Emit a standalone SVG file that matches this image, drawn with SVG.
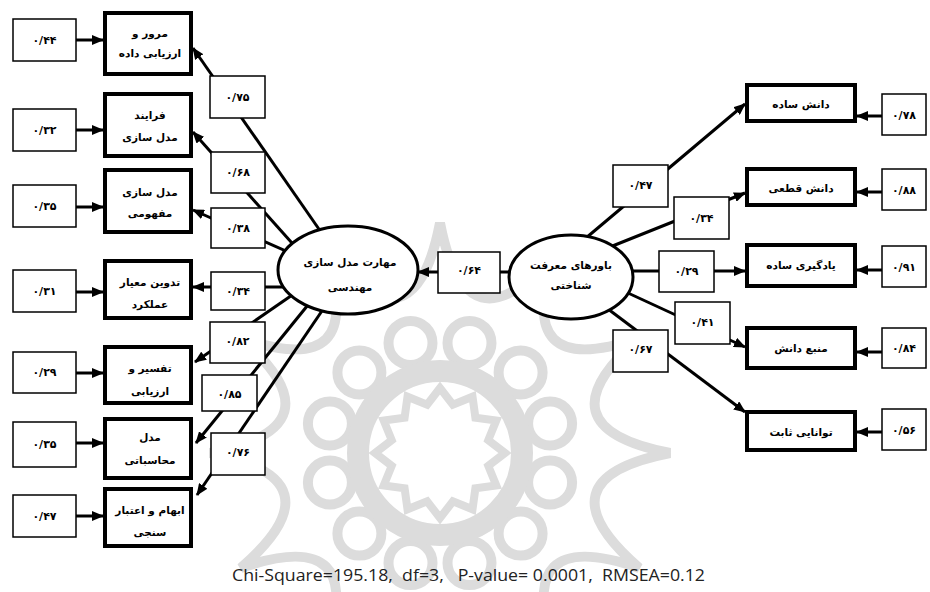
<svg xmlns="http://www.w3.org/2000/svg" width="930" height="592" viewBox="0 0 930 592">
<style>
  .wm { fill: none; stroke: #dcdcdc; stroke-width: 10; }
  .ind { fill: #fff; stroke: #000; stroke-width: 4; }
  .thin { fill: #fff; stroke: #000; stroke-width: 1.5; }
  .lat { fill: #fff; stroke: #000; stroke-width: 3; }
  .ln { stroke: #000; stroke-width: 3; fill: none; marker-end: url(#ah); }
  .fa { font-family: "DejaVu Sans", "Noto Sans", sans-serif; font-weight: bold; font-size: 10.5px; fill: #000; text-anchor: middle; dominant-baseline: central; }
  .num { font-family: "DejaVu Sans", "Noto Sans", sans-serif; font-weight: bold; font-size: 11px; fill: #000; text-anchor: middle; dominant-baseline: central; }
  .stat { font-family: "Open Sans", "Liberation Sans", sans-serif; font-size: 16.5px; fill: #222; }
</style>
<defs>
  <marker id="ah" viewBox="0 0 12 10" refX="11" refY="5" markerWidth="12" markerHeight="10" markerUnits="userSpaceOnUse" orient="auto">
    <path d="M0,0 L12,5 L0,10 z" fill="#000"/>
  </marker>
</defs>
<rect x="0" y="0" width="930" height="592" fill="#fff"/>

<g id="watermark">
  <path class="wm" d="M670,453 Q536.6,427.1 639.2,338 Q510.7,382.3 555,253.8 Q465.9,356.4 440,223 Q414.1,356.4 325,253.8 Q369.3,382.3 240.8,338 Q343.4,427.1 210,453 Q343.4,478.9 240.8,568 Q369.3,523.7 325,652.2 Q414.1,549.6 440,683 Q465.9,549.6 555,652.2 Q510.7,523.7 639.2,568 Q536.6,478.9 670,453 Z"/>
  <circle class="wm" cx="550.1" cy="423.5" r="22"/>
  <circle class="wm" cx="520.6" cy="372.4" r="22"/>
  <circle class="wm" cx="469.5" cy="342.9" r="22"/>
  <circle class="wm" cx="410.5" cy="342.9" r="22"/>
  <circle class="wm" cx="359.4" cy="372.4" r="22"/>
  <circle class="wm" cx="329.9" cy="423.5" r="22"/>
  <circle class="wm" cx="329.9" cy="482.5" r="22"/>
  <circle class="wm" cx="359.4" cy="533.6" r="22"/>
  <circle class="wm" cx="410.5" cy="563.1" r="22"/>
  <circle class="wm" cx="469.5" cy="563.1" r="22"/>
  <circle class="wm" cx="520.6" cy="533.6" r="22"/>
  <circle class="wm" cx="550.1" cy="482.5" r="22"/>
  <circle cx="440" cy="453" r="82" fill="none" stroke="#dcdcdc" stroke-width="22"/>
  <polygon fill="#fff" stroke="#dcdcdc" stroke-width="8" points="505,453 488.3,440.1 496.3,420.5 475.4,417.6 472.5,396.7 452.9,404.7 440,388 427.1,404.7 407.5,396.7 404.6,417.6 383.7,420.5 391.7,440.1 375,453 391.7,465.9 383.7,485.5 404.6,488.4 407.5,509.3 427.1,501.3 440,518 452.9,501.3 472.5,509.3 475.4,488.4 496.3,485.5 488.3,465.9"/>
</g>

<g id="connectors">
  <line class="ln" x1="76" y1="40" x2="103" y2="40"/>
  <line class="ln" x1="76" y1="130" x2="103" y2="130"/>
  <line class="ln" x1="76" y1="207" x2="103" y2="207"/>
  <line class="ln" x1="76" y1="292" x2="103" y2="292"/>
  <line class="ln" x1="76" y1="373" x2="103" y2="373"/>
  <line class="ln" x1="76" y1="443" x2="103" y2="443"/>
  <line class="ln" x1="76" y1="516" x2="103" y2="516"/>
  <line class="ln" x1="882" y1="116" x2="857" y2="116"/>
  <line class="ln" x1="882" y1="192" x2="857" y2="192"/>
  <line class="ln" x1="882" y1="270" x2="857" y2="270"/>
  <line class="ln" x1="882" y1="352" x2="857" y2="352"/>
  <line class="ln" x1="882" y1="432" x2="857" y2="432"/>
  <line class="ln" x1="330" y1="245" x2="193" y2="48"/>
  <line class="ln" x1="300" y1="252" x2="193" y2="132"/>
  <line class="ln" x1="295" y1="255" x2="193" y2="210"/>
  <line class="ln" x1="295" y1="287" x2="193" y2="287"/>
  <line class="ln" x1="298" y1="291" x2="195" y2="362"/>
  <line class="ln" x1="312" y1="300" x2="196" y2="443"/>
  <line class="ln" x1="328" y1="302" x2="197" y2="495"/>
  <line class="ln" x1="515" y1="272" x2="418" y2="272"/>
  <line class="ln" x1="580" y1="243" x2="745" y2="104"/>
  <line class="ln" x1="600" y1="251" x2="745" y2="193"/>
  <line class="ln" x1="620" y1="271" x2="745" y2="271"/>
  <line class="ln" x1="615" y1="287" x2="745" y2="347"/>
  <line class="ln" x1="600" y1="303" x2="745" y2="412"/>
  <rect class="thin" x="210" y="76" width="55" height="42"/><text class="num" x="237.5" y="97">۰/۷۵</text>
  <rect class="thin" x="211" y="152" width="54" height="41"/><text class="num" x="238" y="172">۰/۶۸</text>
  <rect class="thin" x="211" y="208" width="54" height="40"/><text class="num" x="238" y="228">۰/۳۸</text>
  <rect class="thin" x="211" y="272" width="54" height="38"/><text class="num" x="238" y="291">۰/۳۴</text>
  <rect class="thin" x="210" y="322" width="55" height="41"/><text class="num" x="237.5" y="341">۰/۸۲</text>
  <rect class="thin" x="202" y="375" width="55" height="36"/><text class="num" x="229.5" y="394">۰/۸۵</text>
  <rect class="thin" x="211" y="433" width="54" height="42"/><text class="num" x="238" y="452">۰/۷۶</text>
  <rect class="thin" x="438" y="252" width="62" height="41"/><text class="num" x="469" y="270">۰/۶۴</text>
  <rect class="thin" x="613" y="165" width="55" height="42"/><text class="num" x="640.5" y="185">۰/۴۷</text>
  <rect class="thin" x="674" y="197" width="55" height="42"/><text class="num" x="701.5" y="218">۰/۳۴</text>
  <rect class="thin" x="659" y="251" width="55" height="41"/><text class="num" x="686.5" y="271">۰/۲۹</text>
  <rect class="thin" x="675" y="302" width="55" height="42"/><text class="num" x="702.5" y="322">۰/۴۱</text>
  <rect class="thin" x="613" y="330" width="55" height="42"/><text class="num" x="640.5" y="349">۰/۶۷</text>
</g>

<g id="latent-skill">
  <ellipse class="lat" cx="348" cy="270" rx="70" ry="44"/>
  <text class="fa" x="350" y="262">مهارت مدل سازی</text>
  <text class="fa" x="350" y="287">مهندسی</text>
</g>
<g id="latent-belief">
  <ellipse class="lat" cx="571" cy="277" rx="62" ry="42"/>
  <text class="fa" x="571" y="265">باورهای معرفت</text>
  <text class="fa" x="571" y="285">شناختی</text>
</g>

<g id="ind-l1"><rect class="ind" x="105" y="13" width="86" height="61"/><text class="fa" x="150" y="33">مرور و</text><text class="fa" x="150" y="53">ارزیابی داده</text></g>
<g id="ind-l2"><rect class="ind" x="105" y="94" width="86" height="62"/><text class="fa" x="150" y="115">فرایند</text><text class="fa" x="150" y="137">مدل سازی</text></g>
<g id="ind-l3"><rect class="ind" x="105" y="170" width="86" height="62"/><text class="fa" x="150" y="192">مدل سازی</text><text class="fa" x="150" y="213">مفهومی</text></g>
<g id="ind-l4"><rect class="ind" x="105" y="261" width="86" height="57"/><text class="fa" x="150" y="282">تدوین معیار</text><text class="fa" x="150" y="304">عملکرد</text></g>
<g id="ind-l5"><rect class="ind" x="105" y="347" width="86" height="56"/><text class="fa" x="150" y="368">تفسیر و</text><text class="fa" x="150" y="391">ارزیابی</text></g>
<g id="ind-l6"><rect class="ind" x="105" y="419" width="86" height="59"/><text class="fa" x="150" y="437">مدل</text><text class="fa" x="150" y="460">محاسباتی</text></g>
<g id="ind-l7"><rect class="ind" x="105" y="489" width="86" height="57"/><text class="fa" x="150" y="510">ابهام و اعتبار</text><text class="fa" x="150" y="532">سنجی</text></g>

<g id="err-l1"><rect class="thin" x="13" y="19" width="63" height="42"/><text class="num" x="44.5" y="40">۰/۴۴</text></g>
<g id="err-l2"><rect class="thin" x="13" y="109" width="63" height="42"/><text class="num" x="44.5" y="130">۰/۳۲</text></g>
<g id="err-l3"><rect class="thin" x="13" y="185" width="63" height="42"/><text class="num" x="44.5" y="206">۰/۳۵</text></g>
<g id="err-l4"><rect class="thin" x="13" y="270" width="63" height="42"/><text class="num" x="44.5" y="291">۰/۳۱</text></g>
<g id="err-l5"><rect class="thin" x="13" y="352" width="63" height="41"/><text class="num" x="44.5" y="372">۰/۲۹</text></g>
<g id="err-l6"><rect class="thin" x="13" y="422" width="63" height="45"/><text class="num" x="44.5" y="444">۰/۳۵</text></g>
<g id="err-l7"><rect class="thin" x="13" y="495" width="63" height="42"/><text class="num" x="44.5" y="516">۰/۴۷</text></g>

<g id="ind-r1"><rect class="ind" x="747" y="85" width="108" height="36"/><text class="fa" x="801" y="104">دانش ساده</text></g>
<g id="ind-r2"><rect class="ind" x="747" y="169" width="108" height="36"/><text class="fa" x="801" y="188">دانش قطعی</text></g>
<g id="ind-r3"><rect class="ind" x="747" y="245" width="108" height="41"/><text class="fa" x="801" y="265">یادگیری ساده</text></g>
<g id="ind-r4"><rect class="ind" x="747" y="328" width="108" height="40"/><text class="fa" x="801" y="348">منبع دانش</text></g>
<g id="ind-r5"><rect class="ind" x="747" y="412" width="108" height="38"/><text class="fa" x="801" y="432">توانایی ثابت</text></g>

<g id="err-r1"><rect class="thin" x="882" y="94" width="44" height="41"/><text class="num" x="904" y="115">۰/۷۸</text></g>
<g id="err-r2"><rect class="thin" x="882" y="169" width="44" height="41"/><text class="num" x="904" y="190">۰/۸۸</text></g>
<g id="err-r3"><rect class="thin" x="882" y="246" width="44" height="41"/><text class="num" x="904" y="267">۰/۹۱</text></g>
<g id="err-r4"><rect class="thin" x="882" y="328" width="44" height="40"/><text class="num" x="904" y="348">۰/۸۴</text></g>
<g id="err-r5"><rect class="thin" x="882" y="409" width="44" height="41"/><text class="num" x="904" y="430">۰/۵۶</text></g>

<text class="stat" x="232" y="581" xml:space="preserve" textLength="473" lengthAdjust="spacingAndGlyphs">Chi-Square=195.18,  df=3,   P-value= 0.0001,  RMSEA=0.12</text>
</svg>
